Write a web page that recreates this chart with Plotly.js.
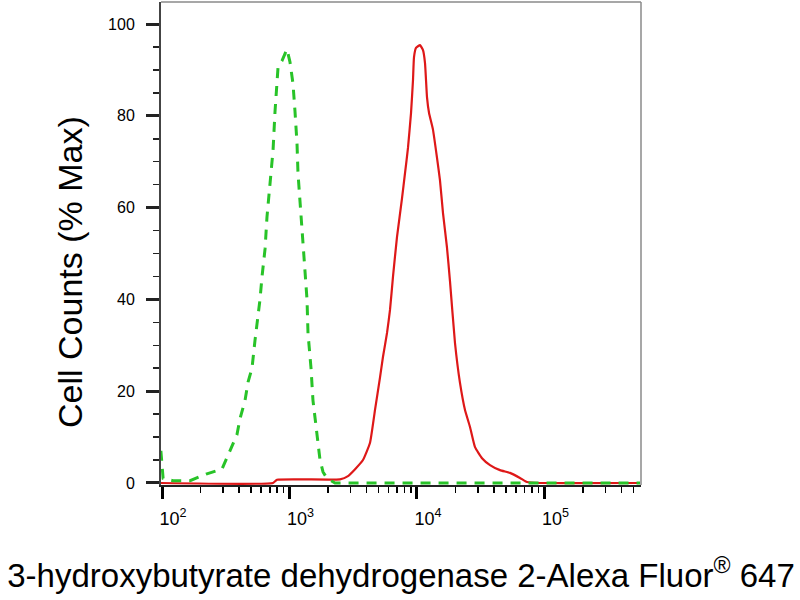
<!DOCTYPE html>
<html>
<head>
<meta charset="utf-8">
<script src="https://cdn.plot.ly/plotly-3.0.1.min.js"></script>
<style>html,body{margin:0;padding:0;background:#fff;}#chart{width:800px;height:600px;}</style>
</head>
<body>
<div id="chart"></div>
<script>
// Isotype control (green dashed)
const controlX = [98, 102, 122, 166, 225, 295, 341, 387, 409, 448, 473, 508, 536, 566, 587, 609, 643, 666, 703, 743, 770, 813, 873, 955, 1009, 1065, 1104, 1145, 1166, 1209, 1276, 1372, 1397, 1475, 1528, 1643, 1735, 1832, 1968, 2275, 10000, 100000, 561000];
const controlY = [7, 1, 0.5, 0.5, 2, 3, 7, 10.5, 14, 18, 22, 25, 31, 36, 40, 45, 51, 58, 65, 72.5, 81, 90.6, 92, 94.5, 91.7, 87, 81, 74, 67.5, 61.7, 51, 40, 32.6, 25, 18, 11, 5, 2.4, 1, 0, 0, 0, 0];

// Antibody stained sample (red solid)
const sampleX = [98, 743, 798, 2489, 2876, 3268, 3770, 4276, 4688, 5129, 5411, 5821, 6142, 6486, 6970, 7628, 8054, 8497, 8975, 9305, 9474, 9820, 10560, 11146, 11558, 11986, 12430, 13346, 14330, 15140, 15995, 17174, 18144, 19861, 21741, 23800, 26053, 28520, 32361, 37384, 44776, 53630, 64234, 72906, 92270, 561000];
const sampleY = [0, 0, 0.7, 0.8, 1.5, 3, 5, 8.7, 16, 23, 27.5, 32.7, 37.7, 45, 53.6, 62, 67.5, 73, 80.6, 87.8, 92.8, 94.8, 95.4, 94.3, 91.5, 84, 80.6, 77, 71, 66, 58.8, 51.4, 44, 30.5, 21.8, 15.9, 12.2, 7.8, 5.4, 3.9, 2.8, 2.2, 1.1, 0.2, 0, 0];

const xTickVals = [100, 1000, 10000, 100000];
const xTickText = ['10<sup>2</sup>', '10<sup>3</sup>', '10<sup>4</sup>', '10<sup>5</sup>'];
const yTickVals = [0, 20, 40, 60, 80, 100];
const yTickText = ['0', '20', '40', '60', '80', '100'];

const xTitle = '3-hydroxybutyrate dehydrogenase 2-Alexa Fluor<sup>®</sup> 647';
const yTitle = 'Cell Counts (% Max)';

const traces = [
  {x: sampleX, y: sampleY, type: 'scatter', mode: 'lines',
   line: {color: 'rgb(222,24,24)', width: 2.2, shape: 'spline', smoothing: 0.4}, hoverinfo: 'skip'},
  {x: controlX, y: controlY, type: 'scatter', mode: 'lines',
   line: {color: 'rgb(40,195,40)', width: 3, dash: '10px,8px'}, hoverinfo: 'skip'}
];

const layout = {
  width: 800, height: 600,
  paper_bgcolor: '#fff', plot_bgcolor: '#fff',
  showlegend: false,
  margin: {l: 161, r: 159, t: 2, b: 115},
  xaxis: {
    type: 'log', range: [Math.log10(98.2), 5.757],
    tickmode: 'array', tickvals: xTickVals, ticktext: xTickText,
    ticks: 'outside', ticklen: 12, tickwidth: 3, tickcolor: '#000',
    ticklabelshift: 11, ticklabelstandoff: 4,
    minor: {ticks: 'outside', ticklen: 6, tickwidth: 1.5, tickcolor: '#000', dtick: 'D1', showgrid: false},
    showline: true, linecolor: '#222', linewidth: 2,
    showgrid: false, zeroline: false,
    tickfont: {family: '"Liberation Sans", Arial, sans-serif', size: 18, color: '#000'},
    title: {text: xTitle, font: {family: '"Liberation Sans", Arial, sans-serif', size: 33, color: '#000'}, standoff: 36}
  },
  yaxis: {
    range: [-0.44, 104.8],
    tickmode: 'array', tickvals: yTickVals, ticktext: yTickText,
    ticks: 'outside', ticklen: 13, tickwidth: 3, tickcolor: '#222',
    ticklabelstandoff: 8,
    minor: {ticks: 'outside', ticklen: 6, tickwidth: 1.5, tickcolor: '#222', dtick: 5, tick0: 0, showgrid: false},
    showline: true, linecolor: '#444', linewidth: 2,
    showgrid: false, zeroline: false,
    tickfont: {family: '"Liberation Sans", Arial, sans-serif', size: 16, color: '#000'}
  },
  annotations: [
    {text: yTitle, textangle: -90, showarrow: false,
     xref: 'paper', yref: 'paper', x: (70 - 161) / 480, y: (485 - 272) / 483,
     xanchor: 'center', yanchor: 'middle',
     font: {family: '"Liberation Sans", Arial, sans-serif', size: 34, color: '#000'}}
  ],
  shapes: [
    {type: 'line', xref: 'paper', yref: 'paper', x0: 0, x1: 1, y0: 1, y1: 1, line: {color: '#8a8a8a', width: 1.5}},
    {type: 'line', xref: 'paper', yref: 'paper', x0: 1, x1: 1, y0: 0, y1: 1, line: {color: '#8a8a8a', width: 1.5}}
  ]
};

Plotly.newPlot('chart', traces, layout, {displayModeBar: false, staticPlot: true});
</script>
</body>
</html>
